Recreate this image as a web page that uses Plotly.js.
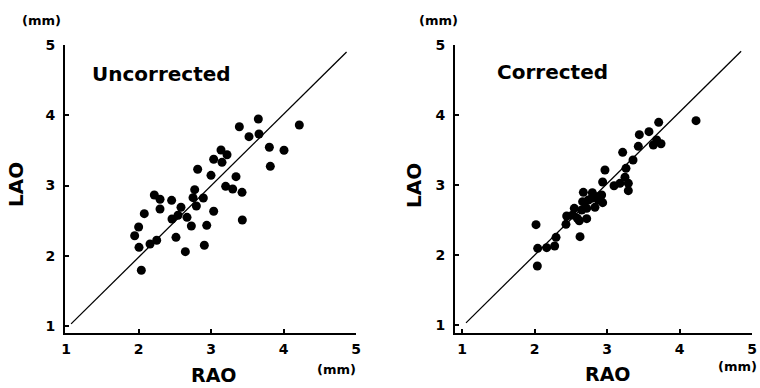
<!DOCTYPE html>
<html>
<head>
<meta charset="utf-8">
<script src="https://cdn.plot.ly/plotly-3.0.1.min.js"></script>
<style>html,body{margin:0;padding:0;background:#fff}#chart{width:760px;height:388px}</style>
</head>
<body>
<div id="chart"></div>
<script>
// Uncorrected panel (RAO vs LAO, mm)
const uncorrRAO = [3.653,3.391,4.218,3.524,3.662,3.805,4.007,3.818,3.138,3.221,3.152,3.037,2.816,3.000,3.345,3.202,3.299,3.428,2.775,2.752,2.894,2.798,3.037,2.218,2.297,2.457,2.297,2.586,2.080,2.462,2.545,2.669,2.729,2.941,3.432,2.002,1.947,2.007,2.159,2.251,2.517,2.908,2.646,2.039];
const uncorrLAO = [3.947,3.837,3.861,3.695,3.733,3.544,3.501,3.273,3.505,3.438,3.330,3.373,3.231,3.145,3.126,2.988,2.950,2.903,2.941,2.827,2.822,2.708,2.633,2.865,2.804,2.789,2.665,2.690,2.599,2.523,2.576,2.547,2.423,2.433,2.509,2.409,2.285,2.120,2.167,2.220,2.262,2.149,2.058,1.793];
// Corrected panel
const corrRAO = [4.228,3.713,3.579,3.446,3.432,3.639,3.685,3.745,3.216,3.359,2.972,3.262,2.940,3.097,3.179,3.248,3.294,3.294,2.674,2.798,2.926,2.880,2.940,2.834,2.743,2.664,2.720,2.651,2.549,2.526,2.444,2.591,2.720,2.618,2.434,2.021,2.297,2.628,2.044,2.168,2.278,2.039,2.789,2.857];
const corrLAO = [3.919,3.895,3.762,3.719,3.552,3.571,3.643,3.590,3.467,3.357,3.214,3.238,3.043,2.990,3.024,3.110,3.024,2.919,2.895,2.890,2.857,2.786,2.748,2.681,2.786,2.762,2.667,2.643,2.667,2.571,2.557,2.524,2.519,2.490,2.438,2.433,2.252,2.262,2.095,2.105,2.129,1.843,2.810,2.833];
// Identity (line of equality) endpoints
const lineLeftX = [1.07, 4.87];
const lineLeftY = [1.03, 4.90];
const lineRightX = [1.055, 4.85];
const lineRightY = [1.03, 4.91];
const tickVals = [1, 2, 3, 4, 5];
const tickText = ['1', '2', '3', '4', '5'];

const W = 760, H = 388;
const fx = p => p / W;
const fy = p => 1 - p / H;
const FONT = 'DejaVu Sans';

const markerStyle = {color: '#000', size: 9, line: {width: 0}};
const lineStyle = {color: '#000', width: 1.3};

const traces = [
  {x: lineLeftX, y: lineLeftY, mode: 'lines', line: lineStyle, xaxis: 'x', yaxis: 'y', hoverinfo: 'skip'},
  {x: uncorrRAO, y: uncorrLAO, mode: 'markers', marker: markerStyle, xaxis: 'x', yaxis: 'y'},
  {x: lineRightX, y: lineRightY, mode: 'lines', line: lineStyle, xaxis: 'x2', yaxis: 'y2', hoverinfo: 'skip'},
  {x: corrRAO, y: corrLAO, mode: 'markers', marker: markerStyle, xaxis: 'x2', yaxis: 'y2'}
];

// pixel mapping: value 1 at p1, 5 at p5; domain from d0 to d1
function xAxis(anchor, d0, d1, p1, p5) {
  const per = (p5 - p1) / 4;
  return {
    domain: [fx(d0), fx(d1)], range: [1 + (d0 - p1) / per, 5 + (d1 - p5) / per], anchor: anchor,
    showline: true, linecolor: '#000', linewidth: 2, showgrid: false, zeroline: false,
    ticks: 'inside', ticklen: 4, tickwidth: 2, tickcolor: '#000',
    tickvals: tickVals, ticktext: tickText, ticklabelstandoff: 2,
    tickfont: {family: FONT, size: 14, color: '#000', weight: 'bold'}, fixedrange: true
  };
}
function yAxis(anchor, top, bottom, p1, p5) {
  const per = (p1 - p5) / 4;
  return {
    domain: [1 - bottom / H, 1 - top / H], range: [1 - (bottom - p1) / per, 5 + (p5 - top) / per], anchor: anchor,
    showline: true, linecolor: '#000', linewidth: 2, showgrid: false, zeroline: false,
    ticks: 'inside', ticklen: 4, tickwidth: 2, tickcolor: '#000',
    tickvals: tickVals, ticktext: tickText, ticklabelstandoff: 5,
    tickfont: {family: FONT, size: 14, color: '#000', weight: 'bold'}, fixedrange: true
  };
}

function ann(text, px, py, size, angle) {
  return {text: text, x: fx(px), y: fy(py), xref: 'paper', yref: 'paper', showarrow: false,
    xanchor: 'center', yanchor: 'middle', textangle: angle || 0,
    font: {family: FONT, size: size, color: '#000', weight: 'bold'}};
}

const layout = {
  width: W, height: H, margin: {l: 0, r: 0, t: 0, b: 0},
  paper_bgcolor: '#fff', plot_bgcolor: 'rgba(0,0,0,0)', showlegend: false,
  xaxis: xAxis('y', 65, 356, 66, 356),
  yaxis: yAxis('x', 45, 333, 326, 45),
  xaxis2: xAxis('y2', 455, 752, 462, 752),
  yaxis2: yAxis('x2', 45, 333, 325, 45),
  annotations: [
    ann('Uncorrected', 161, 74, 20),
    ann('Corrected', 552, 72, 20),
    ann('(mm)', 41, 20, 13),
    ann('(mm)', 438, 20, 13),
    ann('(mm)', 336, 369, 13),
    ann('(mm)', 737, 366, 13),
    ann('LAO', 16, 185, 20, -90),
    ann('LAO', 414, 186, 20, -90),
    ann('RAO', 214, 375, 19),
    ann('RAO', 608, 374, 19)
  ]
};

Plotly.newPlot('chart', traces, layout, {displayModeBar: false, staticPlot: true});
</script>
</body>
</html>
